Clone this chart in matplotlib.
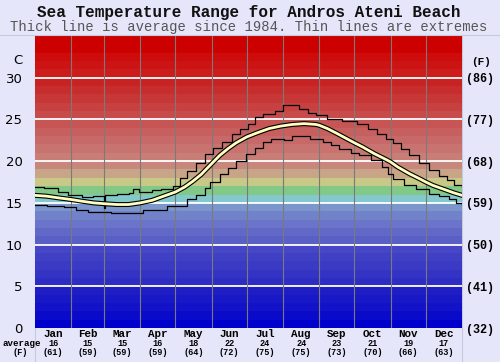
import matplotlib
matplotlib.use('Agg')
import matplotlib.pyplot as plt
import matplotlib.patheffects as pe
from matplotlib.lines import Line2D

# ---------------- data ----------------
months = ['Jan', 'Feb', 'Mar', 'Apr', 'May', 'Jun', 'Jul', 'Aug', 'Sep', 'Oct', 'Nov', 'Dec']
month_avg_c = [16, 15, 15, 16, 18, 22, 24, 24, 23, 21, 19, 17]
month_avg_f = [61, 59, 59, 59, 64, 72, 75, 75, 73, 70, 66, 63]
month_bounds = [31, 59, 90, 120, 151, 181, 212, 243, 273, 304, 334]
month_mids = [15.5, 45, 74.5, 105, 135.5, 166, 196.5, 227.5, 258, 288.5, 319, 349.5]

c_ticks = [0, 5, 10, 15, 20, 25, 30]
f_labels = ['(32)', '(41)', '(50)', '(59)', '(68)', '(77)', '(86)']

avg_days = [0, 10, 20, 31, 40, 50, 59, 70, 80, 90, 100, 110, 120, 128, 135, 142, 151, 158, 165,
            172, 181, 190, 200, 210, 220, 230, 240, 243, 250, 257, 265, 273, 280, 290, 300, 304, 310,
            320, 330, 334, 340, 350, 358, 365]
avg_vals = [15.9, 15.8, 15.6, 15.4, 15.2, 15.0, 14.9, 14.8, 14.8, 15.0, 15.3, 15.8, 16.3, 16.9, 17.6,
            18.4, 19.7, 20.7, 21.5, 22.2, 22.9, 23.4, 23.9, 24.2, 24.4, 24.5, 24.4, 24.3, 23.9,
            23.4, 22.8, 22.2, 21.7, 20.9, 20.2, 19.9, 19.3, 18.5, 17.8, 17.5, 17.1, 16.6, 16.2, 15.9]

max_days = [0, 8, 20, 28, 40, 50, 59, 60, 70, 80, 84, 89, 100, 108, 118, 124, 130, 138, 145, 152,
            160, 168, 175, 182, 188, 195, 205, 212, 220, 226, 233, 240, 250, 262, 275, 285, 292, 300,
            306, 313, 320, 328, 337, 345, 352, 358, 365]
max_vals = [16.9, 16.8, 16.3, 16.0, 15.7, 15.8, 14.4, 16.0, 16.1, 16.2, 16.7, 16.3, 16.5, 16.7, 17.0,
            18.0, 18.8, 19.8, 20.8, 21.6, 22.3, 23.2, 23.8, 24.5, 25.3, 25.7, 26.0, 26.7, 26.7, 26.3,
            25.8, 25.5, 25.1, 24.8, 24.4, 23.8, 23.3, 22.7, 22.2, 21.4, 20.7, 19.8, 18.9, 18.2, 17.7,
            17.2, 16.9]

min_days = [0, 10, 25, 35, 45, 59, 65, 90, 92, 110, 113, 125, 130, 138, 145, 150, 158, 165, 172, 180,
            188, 195, 202, 213, 220, 228, 235, 246, 253, 260, 270, 277, 287, 297, 302, 306, 315, 326,
            337, 345, 354, 360, 365]
min_vals = [14.7, 14.6, 14.45, 14.2, 13.95, 13.9, 13.75, 13.75, 14.15, 14.15, 14.6, 14.6, 15.5, 15.9,
            16.8, 17.5, 18.4, 19.2, 20.0, 20.8, 21.6, 22.3, 22.6, 22.5, 23.0, 23.0, 22.7, 22.3, 21.9,
            21.5, 21.0, 20.7, 20.1, 19.3, 18.5, 17.9, 17.2, 16.7, 16.1, 15.8, 15.5, 15.0, 14.8]

# ---------------- style ----------------
band_rgb = [
    (0, 0, 205), (10, 10, 202), (18, 18, 200), (24, 24, 198), (30, 30, 196),
    (45, 45, 196), (52, 52, 196), (58, 58, 196), (64, 64, 196), (70, 70, 198),
    (90, 95, 198), (98, 104, 200), (106, 116, 200), (114, 130, 202), (122, 150, 202),
    (130, 200, 205), (130, 200, 135), (200, 200, 135), (200, 165, 135), (200, 135, 125),
    (200, 125, 118), (200, 115, 112), (200, 105, 105), (200, 95, 95), (200, 85, 85),
    (200, 75, 75), (200, 65, 65), (200, 55, 55), (200, 45, 45), (200, 35, 35),
    (205, 28, 28), (205, 20, 20), (205, 12, 12), (205, 0, 0), (205, 0, 0),
]
band_colors = [tuple(v / 255 for v in c) for c in band_rgb]

W, H = 500, 362
fig = plt.figure(figsize=(W / 100, H / 100), dpi=100, facecolor='#E6E6FA')
L, R, T, B = 35, 462, 36, 328
ax = fig.add_axes([L / W, 1 - B / H, (R - L) / W, (B - T) / H])
ax.set_xlim(0, 365)
ax.set_ylim(0, 35)

for i, c in enumerate(band_colors):
    ax.axhspan(i, i + 1, color=c, lw=0, zorder=0)
for t in c_ticks[1:]:
    ax.axhline(t, color='white', lw=1.3, zorder=1)
for b in month_bounds:
    ax.axvline(b, color='#7a7a7a', lw=0.8, zorder=1)

ax.plot(max_days, max_vals, drawstyle='steps-post', color='black', lw=0.9, zorder=3)
ax.plot(min_days, min_vals, drawstyle='steps-post', color='black', lw=0.9, zorder=3)
ax.plot(avg_days, avg_vals, color='#FFFFC0', lw=2.0, zorder=4,
        path_effects=[pe.Stroke(linewidth=3.6, foreground='black'), pe.Normal()])

for s in ax.spines.values():
    s.set_visible(False)

ax.set_yticks(c_ticks)
ax.set_yticklabels([str(v) for v in c_ticks], fontsize=9.5, family='DejaVu Sans')
ax.tick_params(axis='y', length=0, pad=9)
ax.set_xticks([])

ax2 = ax.twinx()
ax2.set_ylim(0, 35)
ax2.set_yticks(c_ticks)
ax2.set_yticklabels(f_labels, fontsize=8.5, family='Liberation Mono', weight='bold')
ax2.tick_params(axis='y', length=0, pad=3)
for s in ax2.spines.values():
    s.set_visible(False)

mono = dict(family='Liberation Mono', weight='bold')
for name, mid, c, f in zip(months, month_mids, month_avg_c, month_avg_f):
    ax.annotate(name, xy=(mid, 0), xycoords=('data', 'axes fraction'), xytext=(0, -4.0),
                textcoords='offset points', ha='center', va='center', fontsize=7.8, **mono)
    ax.annotate(str(c), xy=(mid, 0), xycoords=('data', 'axes fraction'), xytext=(0, -10.8),
                textcoords='offset points', ha='center', va='center', fontsize=6.2, **mono)
    ax.annotate('(%d)' % f, xy=(mid, 0), xycoords=('data', 'axes fraction'), xytext=(0, -17.6),
                textcoords='offset points', ha='center', va='center', fontsize=6.2, **mono)

fig.text(22 / W, 1 - 343 / H, 'average', ha='center', va='center', fontsize=6.6, **mono)
fig.text(20 / W, 1 - 352.5 / H, '(F)', ha='center', va='center', fontsize=6.2, **mono)
fig.text(22 / W, 1 - 61 / H, 'C', ha='right', va='center', fontsize=9.5, family='DejaVu Sans')
fig.text(481 / W, 1 - 62 / H, '(F)', ha='center', va='center', fontsize=8, **mono)

fig.text(0.497, 1 - 12.5 / H, 'Sea Temperature Range for Andros Ateni Beach', ha='center', va='center',
         fontsize=11.5, family='Liberation Mono', weight='bold', color='#111111')
fig.text(0.497, 1 - 27.5 / H, 'Thick line is average since 1984. Thin lines are extremes', ha='center',
         va='center', fontsize=10, family='Liberation Mono', color='#555555')

fc = '#C9C9DD'
fig.add_artist(Line2D([0, 1], [1 - 35 / H, 1 - 35 / H], transform=fig.transFigure, color=fc, lw=0.8))
fig.add_artist(Line2D([L / W, L / W], [0, 1 - 35 / H], transform=fig.transFigure, color=fc, lw=0.8, zorder=-1))
fig.add_artist(Line2D([R / W, R / W], [0, 1 - 35 / H], transform=fig.transFigure, color=fc, lw=0.8, zorder=-1))

fig.savefig('out.png', dpi=100, facecolor=fig.get_facecolor())
